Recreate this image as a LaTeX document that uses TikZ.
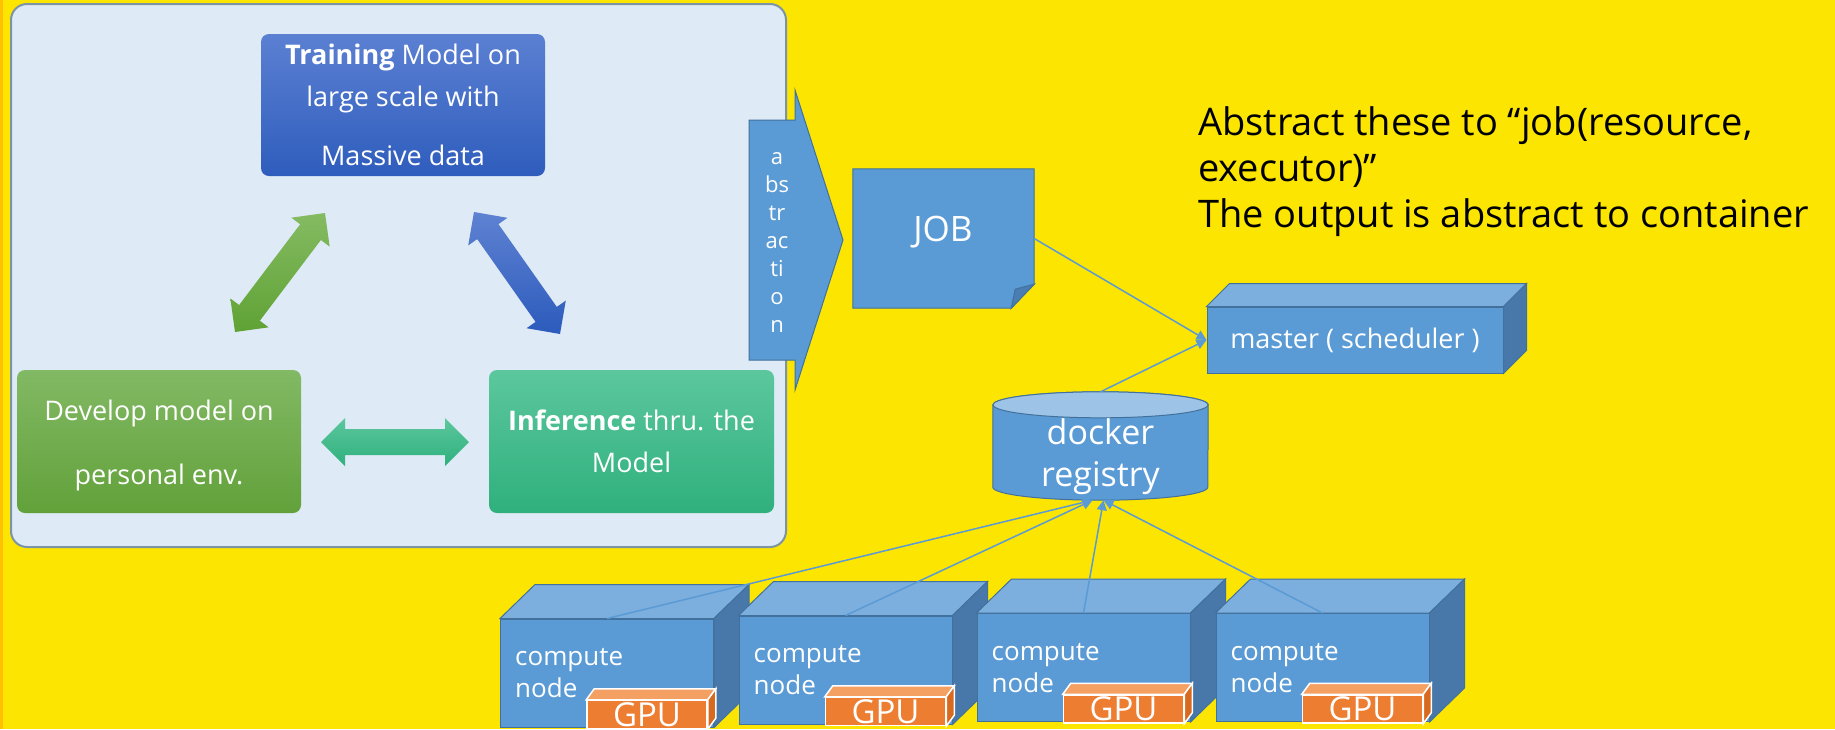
\documentclass[tikz,border=0pt]{standalone}
\usepackage{fontspec}
\setmainfont{Open Sans}
\usetikzlibrary{calc,arrows.meta}

\definecolor{bgyellow}{HTML}{FCE500}
\definecolor{edgeorange}{HTML}{FFC000}
\definecolor{panelfill}{HTML}{DEEAF6}
\definecolor{paneldraw}{HTML}{7D93A6}
\definecolor{offblue}{HTML}{5B9BD5}
\definecolor{offbluetop}{HTML}{7CAEDE}
\definecolor{offblueside}{HTML}{4878AA}
\definecolor{offbluedraw}{HTML}{41719C}
\definecolor{cyltop}{HTML}{9DC3E6}
\definecolor{jobfold}{HTML}{4A7EB3}
\definecolor{gpuorange}{HTML}{ED7D31}
\definecolor{gputop}{HTML}{F3A062}
\definecolor{gpuside}{HTML}{D86A20}
\definecolor{trainTop}{HTML}{5B80D2}
\definecolor{trainBot}{HTML}{2F5DBD}
\definecolor{devTop}{HTML}{82B964}
\definecolor{devBot}{HTML}{62A13A}
\definecolor{infTop}{HTML}{5CC79D}
\definecolor{infBot}{HTML}{2FB07D}
\definecolor{garTop}{HTML}{85BB63}
\definecolor{garBot}{HTML}{5FA234}
\definecolor{barTop}{HTML}{5F82D2}
\definecolor{barBot}{HTML}{2C5BBC}

% double-headed block arrow between two named coordinates
\newcommand\dblblock[3]{%
  \coordinate (#1h) at ($(#1)!24pt!(#2)$);
  \coordinate (#2h) at ($(#2)!24pt!(#1)$);
  \path[#3] (#1) -- ($(#1h)!24pt!90:(#2)$) -- ($(#1h)!13pt!90:(#2)$)
    -- ($(#2h)!13pt!-90:(#1)$) -- ($(#2h)!24pt!-90:(#1)$) -- (#2)
    -- ($(#2h)!24pt!90:(#1)$) -- ($(#2h)!13pt!90:(#1)$)
    -- ($(#1h)!13pt!-90:(#2)$) -- ($(#1h)!24pt!-90:(#2)$) -- cycle;}

% top and right faces of a box whose front face is a node
\newcommand\boxfaces[5]{%
  \filldraw[#4] (#1.north west) -- ++(#2,#3) -- ($(#1.north east)+(#2,#3)$)
    -- (#1.north east) -- cycle;
  \filldraw[#5] (#1.north east) -- ++(#2,#3) -- ($(#1.south east)+(#2,#3)$)
    -- (#1.south east) -- cycle;}

\begin{document}
\begin{tikzpicture}[x=1pt,y=-1pt,
  cyclebox/.style={rectangle, rounded corners=8pt, inner sep=0pt, text=white,
    align=center, minimum width=284pt, minimum height=142pt},
  front/.style={rectangle, fill=offblue, draw=offbluedraw, line width=1pt,
    inner sep=0pt, text=white},
  topface/.style={fill=offbluetop, draw=offbluedraw, line width=1pt},
  sideface/.style={fill=offblueside, draw=offbluedraw, line width=1pt},
  gpufront/.style={rectangle, fill=gpuorange, draw=white, line width=1.5pt,
    inner sep=0pt, text=white, minimum width=120pt, minimum height=28pt,
    font=\fontsize{33}{36}\selectfont, text height=23pt, text depth=0pt},
  gpubtop/.style={fill=gputop, draw=white, line width=1.5pt},
  gpubside/.style={fill=gpuside, draw=white, line width=1.5pt},
  nodetext/.style={text=white, align=left, inner sep=0pt,
    font=\fontsize{26}{32}\selectfont},
  conn/.style={draw=offblue, line width=1.5pt,
    -{Triangle[length=10pt,width=10pt]}},
]
\useasboundingbox (0,0) rectangle (1835,729);
\clip (0,0) rectangle (1835,729);

% background
\fill[bgyellow] (0,0) rectangle (1835,729);
\fill[edgeorange] (0,0) rectangle (3,729);

% workflow panel
\filldraw[fill=panelfill, draw=paneldraw, line width=2pt, rounded corners=16pt]
  (11,4) rectangle (786,547);

\node[cyclebox, top color=trainTop, bottom color=trainBot,
  font=\fontsize{27}{42}\selectfont] (train) at (403,105)
  {\textbf{Training} Model on\\large scale with\\[17pt]Massive data};
\node[cyclebox, minimum height=143pt, top color=devTop, bottom color=devBot,
  font=\fontsize{27}{64}\selectfont] (dev) at (159,441.5)
  {\rule{0pt}{28pt}Develop model on\\personal env.};
\node[cyclebox, minimum width=285pt, minimum height=143pt, top color=infTop,
  bottom color=infBot, font=\fontsize{27}{42}\selectfont] (infer) at (631.5,441.5)
  {\textbf{Inference} thru. the\\Model};

\coordinate (ga) at (235,332);
\coordinate (gb) at (325,213);
\coordinate (ba) at (474,212);
\coordinate (bb) at (560,334);
\coordinate (ta) at (321,442);
\coordinate (tb) at (469,442);
\dblblock{ga}{gb}{top color=garTop, bottom color=garBot}
\dblblock{ba}{bb}{top color=barTop, bottom color=barBot}
\dblblock{ta}{tb}{top color=infTop, bottom color=infBot}

% abstraction arrow
\filldraw[fill=offblue, draw=offbluedraw, line width=1pt]
  (749,120) -- (795,120) -- (795,90) -- (843,240) -- (795,390) -- (795,360)
  -- (749,360) -- cycle;
\node[text=white, align=center, inner sep=0pt,
  font=\fontsize{22}{28}\selectfont] (abstr) at (777,243)
  {a\\bs\\tr\\ac\\ti\\o\\n};

% job sheet with folded corner
\node[inner sep=0pt, minimum width=181pt, minimum height=139pt] (job)
  at (943.5,238.5) {};
\filldraw[fill=offblue, draw=offbluedraw, line width=1pt]
  (job.north west) -- (job.north east) -- ($(job.south east)+(0,-24)$)
  -- ($(job.south east)+(-23,0)$) -- (job.south west) -- cycle;
\filldraw[fill=jobfold, draw=offbluedraw, line width=1pt]
  ($(job.south east)+(0,-24)$) -- ($(job.south east)+(-19,-19)$)
  -- ($(job.south east)+(-23,0)$) -- cycle;
\node[text=white, font=\fontsize{35}{40}\selectfont] (jobtext) at (943,232) {JOB};

% note
\node[font=\fontsize{38}{46}\selectfont, align=left, anchor=north west,
  inner sep=0pt] (note) at (1198,106)
  {Abstract these to “job(resource,\\executor)”\\The output is abstract to container};

% master
\node[front, minimum width=296pt, minimum height=66pt,
  font=\fontsize{27}{32}\selectfont] (master) at (1355,340) {master ( scheduler )};
\boxfaces{master}{23}{-23}{topface}{sideface}

% docker registry cylinder
\node[inner sep=0pt, minimum width=215pt, minimum height=108pt] (docker)
  at (1100.5,446) {};
\filldraw[fill=offblue, draw=offbluedraw, line width=1pt]
  ($(docker.north west)+(0,13)$) -- ($(docker.south west)+(0,-13)$)
  arc[start angle=180, end angle=360, x radius=107.5pt, y radius=13pt]
  -- ($(docker.north east)+(0,13)$)
  arc[start angle=0, end angle=180, x radius=107.5pt, y radius=13pt] -- cycle;
\filldraw[fill=cyltop, draw=offbluedraw, line width=1pt]
  ($(docker.north)+(0,13)$) ellipse [x radius=107.5pt, y radius=13pt];
\node[text=white, align=center, inner sep=0pt,
  font=\fontsize{34}{42}\selectfont] (dockertext) at (1100.5,457)
  {docker\\registry};

% compute nodes with GPUs
\foreach \i/\cx/\cy in {1/607/673, 2/845.5/670, 3/1083.5/667.5, 4/1322.5/667.5}{
  \node[front, minimum width=213pt, minimum height=108pt] (cn\i) at (\cx,\cy) {};
  \boxfaces{cn\i}{35}{-34}{topface}{sideface}
  \node[nodetext, anchor=west] (cn\i t) at ($(cn\i.north west)+(15,55)$)
    {compute\\node};
  \node[gpufront] (gpu\i) at ($(cn\i.north west)+(147,96)$) {GPU};
  \boxfaces{gpu\i}{8}{-11}{gpubtop}{gpubside}
}

% connectors
\draw[conn] (job.east) -- (master.west);
\draw[conn] (docker.north) -- (master.west);
\draw[conn] (cn1.north) -- ($(docker.south)+(-8,0)$);
\draw[conn] (cn2.north) -- ($(docker.south)+(-8,0)$);
\draw[conn] (cn3.north) -- ($(docker.south)+(3,0)$);
\draw[conn] (cn4.north) -- ($(docker.south)+(3,0)$);
\end{tikzpicture}
\end{document}
